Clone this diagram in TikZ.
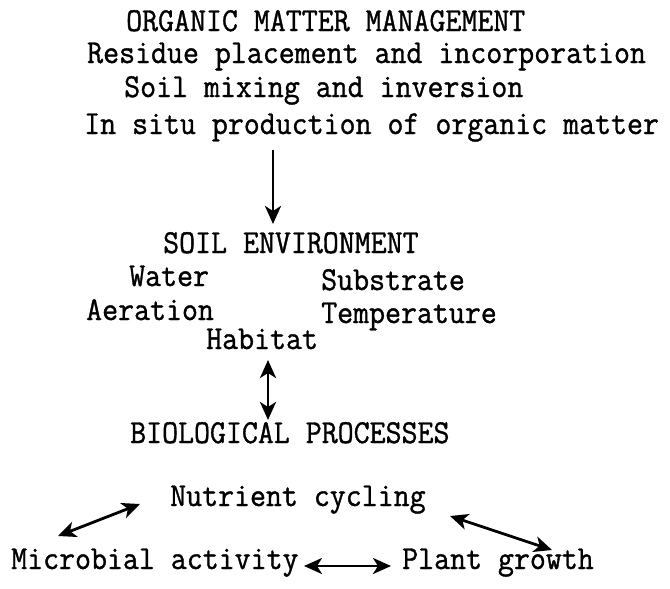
\documentclass[tikz,border=0pt]{standalone}
\usepackage{fontspec}
\usetikzlibrary{arrows.meta}
\newfontfamily\twfont{Latin Modern Mono}[BoldFont={Latin Modern Mono},BoldFeatures={FakeBold=1.1}]
\newcommand{\tall}[1]{\scalebox{1}[1.08]{#1}}
\begin{document}
\begin{tikzpicture}[x=1pt,y=-1pt,
  lbl/.style={anchor=base west,inner sep=0pt,font=\twfont\bfseries\fontsize{31}{34}\selectfont},
  conn/.style={line width=2.8pt,-{Stealth[length=18pt,width=16pt,inset=5pt]}},
  conn2/.style={line width=2.8pt,{Stealth[length=18pt,width=16pt,inset=5pt]}-{Stealth[length=18pt,width=16pt,inset=5pt]}}]
\useasboundingbox[fill=white] (0,0) rectangle (670,589);
\node[lbl] (omm) at (126,31) {\tall{ORGANIC MATTER MANAGEMENT}};
\node[lbl] (res) at (87,63) {\tall{Residue placement and incorporation}};
\node[lbl] (mix) at (124,97) {\tall{Soil mixing and inversion}};
\node[lbl] (situ) at (84,134) {\tall{In situ production of organic matter}};
\node[lbl] (soil) at (163,253) {\tall{SOIL ENVIRONMENT}};
\node[lbl] (water) at (129,286) {\tall{Water}};
\node[lbl] (subs) at (321,290) {\tall{Substrate}};
\node[lbl] (aer) at (86,320) {\tall{Aeration}};
\node[lbl] (temp) at (321,323) {\tall{Temperature}};
\node[lbl] (hab) at (206,349) {\tall{Habitat}};
\node[lbl] (bio) at (130,443) {\tall{BIOLOGICAL PROCESSES}};
\node[lbl] (nut) at (170,506) {\tall{Nutrient cycling}};
\node[lbl] (mic) at (11,569) {\tall{Microbial activity}};
\node[lbl] (plant) at (402,569) {\tall{Plant growth}};
\coordinate (a1s) at (273,150);
\coordinate (a1e) at (273,224);
\coordinate (a2s) at (268,360);
\coordinate (a2e) at (268,420);
\coordinate (l1) at (58,536);
\coordinate (l2) at (140,504);
\coordinate (r1) at (450,516);
\coordinate (r2) at (552,550);
\coordinate (b1) at (304,566);
\coordinate (b2) at (391,566);
\draw[conn] (a1s) -- (a1e);
\draw[conn2] (a2s) -- (a2e);
\draw[conn2] (l1) -- (l2);
\draw[conn2] (r1) -- (r2);
\draw[conn2] (b1) -- (b2);
\end{tikzpicture}
\end{document}
